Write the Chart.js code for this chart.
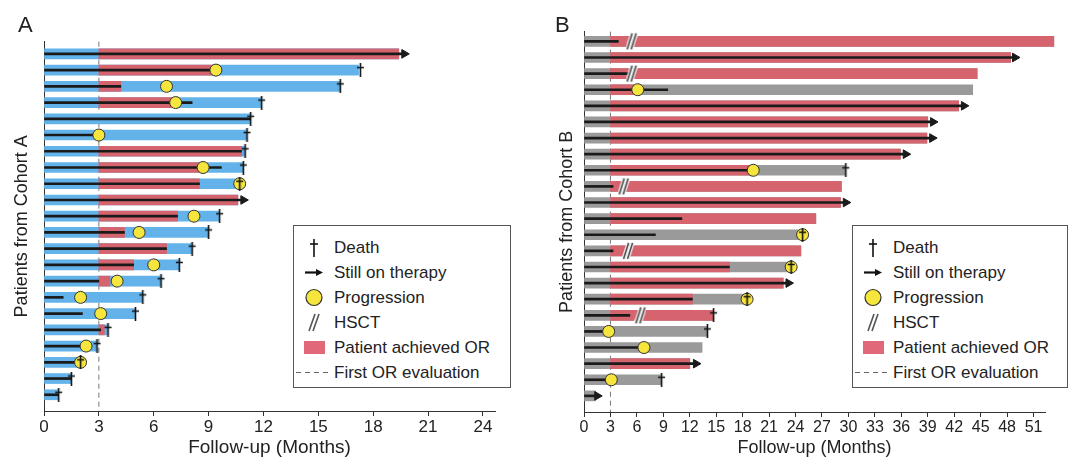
<!DOCTYPE html>
<html>
<head>
<meta charset="utf-8">
<title>Swimmer plots - Cohort A / Cohort B</title>
<script src="https://cdn.jsdelivr.net/npm/chart.js@4.4.1/dist/chart.umd.min.js"></script>
<style>
  body { margin: 0; background: #fff; font-family: "Liberation Sans", Arial, Helvetica, sans-serif; color: #222; }
  #page { position: relative; width: 1080px; height: 476px; overflow: hidden; }
  canvas { position: absolute; top: 0; }
  .panel { position: absolute; top: 14px; font-size: 22px; line-height: 22px; }
  .legend { position: absolute; top: 225px; height: 163px; border: 1px solid #555; background: #fff;
            box-sizing: border-box; padding-top: 9px; font-size: 17px; }
  .legend div { height: 25px; display: flex; align-items: center; white-space: nowrap; }
  .legend svg { width: 40px; height: 25px; flex: none; }
</style>
</head>
<body>
<div id="page">
  <canvas id="chartA" width="540" height="476" style="left:0"></canvas>
  <canvas id="chartB" width="540" height="476" style="left:540px"></canvas>
  <div class="panel" style="left:18px">A</div>
  <div class="panel" style="left:555px">B</div>
  <div class="legend" id="legA" style="left:293px;width:218px"></div>
  <div class="legend" id="legB" style="left:852px;width:216px"></div>
</div>
<script>
// Cohort A, one entry per patient, top row first (months)
const endA     = [19.4, 17.2, 16.2, 11.9, 11.3, 11.1, 11.0, 10.9, 10.7, 10.6, 9.6, 9.0, 8.1, 7.4, 6.4, 5.4, 5.0, 3.5, 2.9, 2.0, 1.5, 0.8];
const respA    = [19.4, 9.3, 4.2, 7.2, null, null, 10.8, 8.7, 8.5, 10.6, 7.3, 4.4, 6.7, 4.9, 3.6, null, null, 3.3, null, null, null, null];
const therapyA = [19.7, 9.4, 4.2, 8.1, 11.3, 3.0, 10.8, 9.7, 8.5, 10.9, 7.3, 4.4, 6.7, 4.9, 3.0, 1.05, 2.1, 3.1, 2.3, 2.0, 1.5, 0.8];
const progA    = [null, 9.4, 6.7, 7.2, null, 3.0, null, 8.7, 10.7, null, 8.2, 5.2, null, 6.0, 4.0, 2.0, 3.1, null, 2.3, 2.0, null, null];
const deathA   = [null, 17.3, 16.2, 11.9, 11.3, 11.1, 11.0, 10.9, 10.7, null, 9.6, 9.0, 8.1, 7.4, 6.4, 5.4, 5.0, 3.5, 2.9, 2.0, 1.5, 0.8];
const ongoingA = [19.7, null, null, null, null, null, null, null, null, 10.9, null, null, null, null, null, null, null, null, null, null, null, null];
const hsctA    = [];

// Cohort B
const endB     = [53.3, 48.4, 44.6, 44.1, 42.5, 39.0, 38.9, 35.9, 29.7, 29.2, 29.1, 26.3, 24.8, 24.6, 23.6, 22.6, 18.5, 14.7, 14.0, 13.4, 12.0, 8.8, 1.3];
const respB    = [53.3, 48.4, 44.6, 6.1, 42.5, 39.0, 38.9, 35.9, 19.2, 29.2, 29.1, 26.3, null, 24.6, 16.5, 22.6, 12.3, 14.7, null, null, 12.0, null, null];
const therapyB = [3.9, 48.9, 5.2, 9.5, 43.1, 39.6, 39.5, 36.5, 19.2, 3.3, 29.7, 11.1, 8.1, 3.3, 16.5, 23.2, 12.3, 5.2, 2.8, 6.8, 12.7, 3.1, 1.5];
const progB    = [null, null, null, 6.1, null, null, null, null, 19.2, null, null, null, 24.8, null, 23.5, null, 18.5, null, 2.8, 6.8, null, 3.1, null];
const deathB   = [null, null, null, null, null, null, null, null, 29.7, null, null, null, 24.8, null, 23.5, null, 18.5, 14.7, 14.0, null, null, 8.8, null];
const ongoingB = [null, 48.9, null, null, 43.1, 39.6, 39.5, 36.5, null, null, 29.7, null, null, null, null, 23.2, null, null, null, null, 12.7, null, 1.5];
const hsctB    = [5.4, null, 5.4, null, null, null, null, null, null, 4.5, null, null, null, 5.0, null, null, null, 6.4, null, null, null, null, null];

const FIRST_OR = 3;
const FONT = '"Liberation Sans", Arial, Helvetica, sans-serif';
const RED = '#d6646f', BLUE = '#63b3ea', GRAY = '#9a9a9a', YELLOW = '#f5e53c', INK = '#1a1a1a';

// marker images
function daggerImg() {
  const c = document.createElement('canvas'); c.width = 9; c.height = 14;
  const g = c.getContext('2d');
  g.strokeStyle = '#111'; g.lineWidth = 1.6;
  g.beginPath(); g.moveTo(4.5, 0); g.lineTo(4.5, 14); g.moveTo(1, 4.5); g.lineTo(8, 4.5); g.stroke();
  return c;
}
function hsctImg() {
  const c = document.createElement('canvas'); c.width = 12; c.height = 18;
  const g = c.getContext('2d');
  const segs = [[1.5, 17, 6.5, 1], [5.5, 17, 10.5, 1]];
  [['#f4f4f4', 4], ['#444', 1.5]].forEach(([col, w]) => {
    g.strokeStyle = col; g.lineWidth = w; g.beginPath();
    segs.forEach(s => { g.moveTo(s[0], s[1]); g.lineTo(s[2], s[3]); });
    g.stroke();
  });
  return c;
}
const DAGGER = daggerImg(), HSCT = hsctImg();

// helpers: keep row position (top row = n) for non-null entries
function bars(arr, start) {
  const n = arr.length;
  return arr.map((v, i) => v == null ? null : {x: [start, v], y: n - i}).filter(d => d);
}
function points(arr, n) {
  return arr.map((v, i) => v == null ? null : {x: v, y: n - i}).filter(d => d);
}

const firstOR = {
  id: 'firstOR',
  beforeDatasetsDraw(chart) {
    const {ctx, chartArea, scales} = chart;
    const x = scales.x.getPixelForValue(FIRST_OR);
    ctx.save();
    ctx.strokeStyle = '#777'; ctx.lineWidth = 1; ctx.setLineDash([5, 4]);
    ctx.beginPath(); ctx.moveTo(x, chartArea.top); ctx.lineTo(x, chartArea.bottom); ctx.stroke();
    ctx.restore();
  }
};

function swimmer(id, d) {
  const n = d.end.length;
  const barBase = {type: 'bar', grouped: false, clip: false, borderWidth: 0,
                   barPercentage: 1, categoryPercentage: 1};
  const datasets = [
    Object.assign({}, barBase, {label: 'follow-up', data: bars(d.end, 0), backgroundColor: d.base, maxBarThickness: 10, order: 6}),
    Object.assign({}, barBase, {label: 'OR', data: bars(d.resp, FIRST_OR), backgroundColor: RED, maxBarThickness: 10, order: 5}),
    Object.assign({}, barBase, {label: 'therapy', data: bars(d.therapy, 0), backgroundColor: INK, maxBarThickness: 2, order: 4}),
    {type: 'scatter', label: 'Progression', data: points(d.prog, n), pointStyle: 'circle', pointRadius: 6,
     backgroundColor: YELLOW, borderColor: '#333', borderWidth: 1, order: 3},
    {type: 'scatter', label: 'HSCT', data: points(d.hsct, n), pointStyle: HSCT, pointRadius: 7, order: 2},
    {type: 'scatter', label: 'Death', data: points(d.death, n), pointStyle: DAGGER, pointRadius: 6, order: 1},
    {type: 'scatter', label: 'Still on therapy', data: points(d.ongoing, n), pointStyle: 'triangle', rotation: 90,
     pointRadius: 5, backgroundColor: INK, borderColor: INK, borderWidth: 1, order: 1}
  ];
  return new Chart(document.getElementById(id), {
    type: 'bar',
    data: {datasets},
    plugins: [firstOR],
    options: {
      indexAxis: 'y',
      responsive: false,
      animation: false,
      devicePixelRatio: 1,
      events: [],
      layout: {padding: {left: 0, top: d.top, right: d.right, bottom: 0}},
      plugins: {legend: {display: false}, tooltip: {enabled: false}},
      scales: {
        x: {
          type: 'linear', min: 0, max: d.xmax, offset: false,
          afterFit: s => { s.height = 476 - d.bottom; },
          ticks: {stepSize: 3, includeBounds: false, padding: 1, color: '#222', maxRotation: 0, autoSkip: false,
                  font: {family: FONT, size: d.tickSize}},
          grid: {display: true, drawOnChartArea: false, drawTicks: true, tickLength: 5, color: '#333', offset: false},
          border: {display: true, color: '#333', width: 1},
          title: {display: true, text: 'Follow-up (Months)', color: '#222', font: {family: FONT, size: d.titleSize},
                  padding: {top: 0, bottom: 476 - 448 - d.titleSize * 0.6}}
        },
        y: {
          type: 'linear', min: 0, max: d.ymax, offset: false,
          afterFit: s => { s.width = 44; },
          ticks: {display: false, stepSize: 1},
          grid: {display: false, offset: false},
          border: {display: true, color: '#333', width: 1},
          title: {display: true, text: d.ytitle, color: '#222', font: {family: FONT, size: 18},
                  padding: {top: d.ytitleX - 10.8, bottom: 0}}
        }
      }
    }
  });
}

swimmer('chartA', {end: endA, resp: respA, therapy: therapyA, prog: progA, death: deathA, ongoing: ongoingA, hsct: hsctA,
  base: BLUE, xmax: 24.66, ymax: 22.75, top: 41.7, bottom: 411, right: 45, tickSize: 17, titleSize: 19,
  ytitle: 'Patients from Cohort A', ytitleX: 21.7});
swimmer('chartB', {end: endB, resp: respB, therapy: therapyB, prog: progB, death: deathB, ongoing: ongoingB, hsct: hsctB,
  base: GRAY, xmax: 52.3, ymax: 23.6, top: 31.7, bottom: 412, right: 35, tickSize: 16, titleSize: 18,
  ytitle: 'Patients from Cohort B', ytitleX: 27});

// legend boxes
const legendItems = [
  ['<line x1="20" y1="4" x2="20" y2="22" stroke="#111" stroke-width="1.6"/><line x1="16" y1="9" x2="24" y2="9" stroke="#111" stroke-width="1.6"/>', 'Death'],
  ['<line x1="11" y1="12.5" x2="24" y2="12.5" stroke="#111" stroke-width="2.2"/><polygon points="22,9 29,12.5 22,16" fill="#111"/>', 'Still on therapy'],
  ['<circle cx="20" cy="12.5" r="8" fill="' + YELLOW + '" stroke="#333" stroke-width="1.2"/>', 'Progression'],
  ['<line x1="15" y1="21" x2="21" y2="4" stroke="#555" stroke-width="1.6"/><line x1="19" y1="21" x2="25" y2="4" stroke="#555" stroke-width="1.6"/>', 'HSCT'],
  ['<rect x="10" y="6" width="21" height="13" fill="#e06878"/>', 'Patient achieved OR'],
  ['<line x1="2" y1="12.5" x2="38" y2="12.5" stroke="#666" stroke-width="1.2" stroke-dasharray="5,4"/>', 'First OR evaluation']
];
['legA', 'legB'].forEach(id => {
  document.getElementById(id).innerHTML = legendItems.map(([svg, txt]) =>
    '<div><svg viewBox="0 0 40 25">' + svg + '</svg><span>' + txt + '</span></div>').join('');
});
</script>
</body>
</html>
